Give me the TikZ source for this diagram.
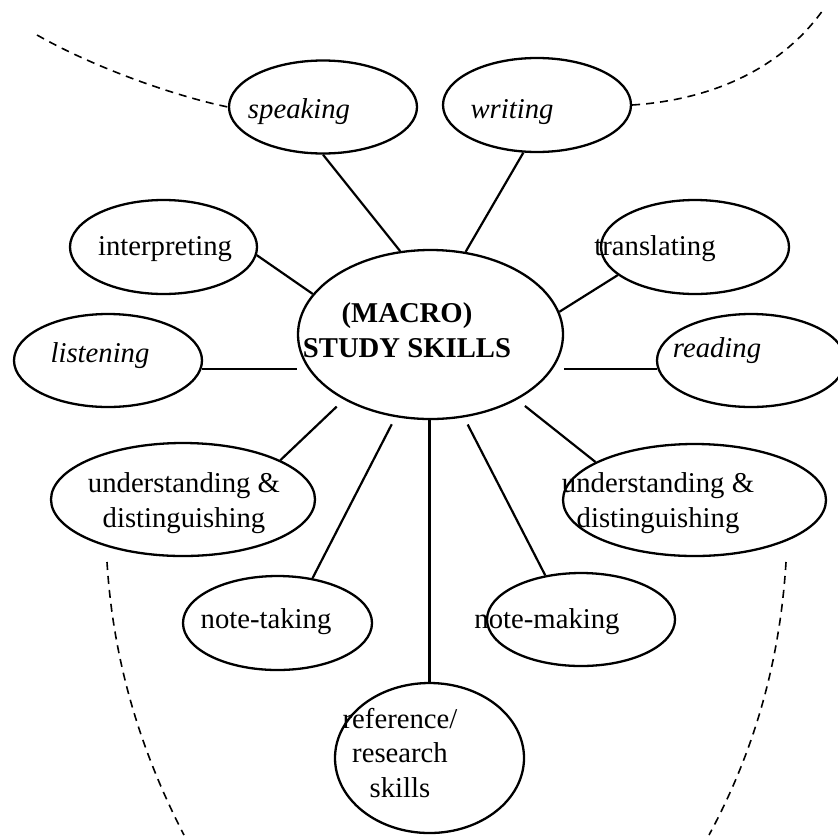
\documentclass[tikz,border=0pt]{standalone}
\usepackage{fontspec}
\setmainfont{Liberation Serif}
\usetikzlibrary{shapes.geometric}
\newcommand{\txtsize}{\fontsize{14.35}{17.25}\selectfont}
\begin{document}
\begin{tikzpicture}[line join=round,x=0.5pt,y=-0.5pt]
	\tikzset{bub/.style={draw,ellipse,line width=1.15pt,inner sep=0pt,fill=white},
		txt/.style={anchor=base,inner sep=0pt,align=center,font=\txtsize},
		ittxt/.style={txt,font=\txtsize\itshape},
		bftxt/.style={txt,font=\txtsize\bfseries},
		con/.style={line width=1.1pt},
		guide/.style={line width=0.8pt,dash pattern=on 4pt off 3pt}}
	\useasboundingbox (0,0) rectangle (838,835);
	\clip (0,0) rectangle (838,835);
	% bubbles
	\node[bub,minimum width=132.5pt,minimum height=84.5pt] (macro) at (430.5,334.5) {};
	\node[bub,minimum width=94pt,minimum height=46.5pt] (speak) at (323,107) {};
	\node[bub,minimum width=94pt,minimum height=47pt] (write) at (537,105) {};
	\node[bub,minimum width=93.5pt,minimum height=47pt] (interp) at (163.5,247) {};
	\node[bub,minimum width=94pt,minimum height=47pt] (trans) at (695,247) {};
	\node[bub,minimum width=94pt,minimum height=46.5pt] (listen) at (108,360.5) {};
	\node[bub,minimum width=94pt,minimum height=46.5pt] (read) at (751,360.5) {};
	\node[bub,minimum width=132pt,minimum height=56.5pt] (ul) at (183,499.5) {};
	\node[bub,minimum width=131.5pt,minimum height=56pt] (ur) at (694.5,500) {};
	\node[bub,minimum width=94.5pt,minimum height=47pt] (nt) at (277.5,623) {};
	\node[bub,minimum width=94pt,minimum height=46.5pt] (nm) at (581,619.5) {};
	\node[bub,minimum width=94.5pt,minimum height=75pt] (ref) at (429.5,758) {};
	% texts (base = last line)
	\node[bftxt] (macro-t) at (407,357) {(MACRO)\\STUDY SKILLS};
	\node[ittxt] (speak-t) at (299,118) {speaking};
	\node[ittxt] (write-t) at (512,118) {writing};
	\node[txt] (interp-t) at (165,255) {interpreting};
	\node[txt] (trans-t) at (655,255) {translating};
	\node[ittxt] (listen-t) at (100,362) {listening};
	\node[ittxt] (read-t) at (717,357) {reading};
	\node[txt] (ul-t) at (184,527) {understanding \&\\distinguishing};
	\node[txt] (ur-t) at (658,527) {understanding \&\\distinguishing};
	\node[txt] (nt-t) at (266,628) {note-taking};
	\node[txt] (nm-t) at (547,628) {note-making};
	\node[txt] (ref-t) at (400,797) {reference/\\research\\skills};
	% spokes
	\draw[con] (speak.south) -- (macro.110);
	\draw[con] (write.254) -- (macro.67);
	\draw[con] (interp.-5) -- (macro.161);
	\draw[con] (trans.200) -- (macro.10);
	\draw[con] (listen.-5) -- (listen.-5 -| macro.west);
	\draw[con] (read.185) -- (read.185 -| macro.east);
	\draw[con,shorten >=5pt] (ul.22) -- (macro.217);
	\draw[con,shorten >=5pt] (ur.159) -- (macro.-37);
	\draw[con,shorten >=4pt] (nt.52) -- (macro.247);
	\draw[con,shorten >=4pt] (nm.129) -- (macro.-68);
	\draw[con] (ref.north) -- (ref.north |- macro.south);
	% dashed guides
	\coordinate (tl) at (37,35);
	\coordinate (tr) at (823,10);
	\coordinate (bl0) at (107,562);
	\coordinate (bl1) at (184,835);
	\coordinate (br0) at (786,562);
	\coordinate (br1) at (709,835);
	\draw[guide] (tl) .. controls (95,68) and (175,96) .. (speak.west);
	\draw[guide] (write.east) .. controls (710,100) and (780,70) .. (tr);
	\draw[guide] (bl0) .. controls (113,660) and (140,750) .. (bl1);
	\draw[guide] (br0) .. controls (780,660) and (755,750) .. (br1);
\end{tikzpicture}
\end{document}
